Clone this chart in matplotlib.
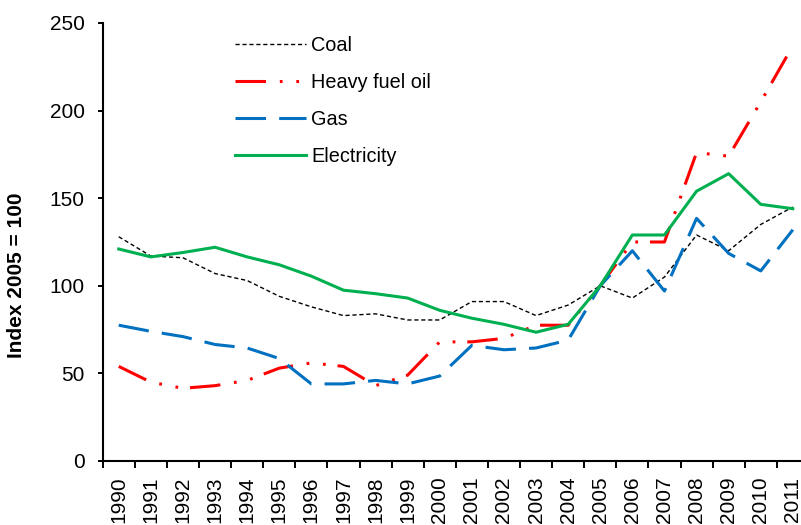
import matplotlib
matplotlib.use("Agg")
import matplotlib.pyplot as plt
import numpy as np

plt.rcParams['font.family'] = ['Liberation Sans', 'DejaVu Sans']

# Данные (индекс 2005 = 100)
years = [str(y) for y in range(1990, 2012)]
coal = [128, 117, 116, 107, 103, 94, 88, 83, 84, 80.5, 80.5,
        91, 91, 83, 89, 100, 93, 105, 129, 120, 135, 145]
heavy_fuel_oil = [54, 45, 41.5, 43, 46, 53, 56, 54, 43, 49, 68,
                  68, 70, 77.5, 77.5, 100, 125, 125, 176, 174, 205, 237]
gas = [77.5, 74, 71, 66.5, 64.5, 58.5, 44, 44, 46, 44, 48.5,
       66, 63.5, 64.5, 69, 100, 120, 97, 138.5, 118.5, 108.5, 132]
electricity = [121, 116.5, 119, 122, 116.5, 112, 105.5, 97.5, 95.5, 93, 86,
               81.5, 78, 73.5, 78, 100, 129, 129, 154, 164, 146.5, 144]

W, H = 801, 525
fig = plt.figure(figsize=(W / 100, H / 100), dpi=100)

# область графика: левая ось x=102.7px, низ y=461, верх y=23, шаг категории 32.1px
left, bottom, top, step = 102.7, 461, 23, 32.1
ax = fig.add_axes([left / W, (H - bottom) / H,
                   step * len(years) / W, (bottom - top) / H])

x = np.arange(len(years))
ax.plot(x, coal, color='black', lw=1.0, dashes=(3, 2), label='Coal')
ax.plot(x, heavy_fuel_oil, color='#FF0000', lw=2.2,
        dashes=(10, 4.5, 0.9, 4.5, 0.9, 3.9), label='Heavy fuel oil')
ax.plot(x, gas, color='#0070C0', lw=2.2, dashes=(10, 4.3), label='Gas')
ax.plot(x, electricity, color='#00B050', lw=2.2, label='Electricity')

ax.set_xlim(-0.5, len(years) - 0.5)
ax.set_ylim(0, 250)
ax.set_yticks([0, 50, 100, 150, 200, 250])

ax.set_xticks(x)
ax.set_xticklabels(years, rotation=90)
ax.set_xticks(np.arange(len(years) + 1) - 0.5, minor=True)
ax.tick_params(axis='x', which='major', length=0, pad=11.3, labelsize=15)
ax.tick_params(axis='x', which='minor', length=5, width=1.4, direction='out')
ax.tick_params(axis='y', length=3.6, width=1.4, pad=9.3, labelsize=15)

for side in ['top', 'right']:
    ax.spines[side].set_visible(False)
for side in ['left', 'bottom']:
    ax.spines[side].set_linewidth(1.5)

fig.text(17 / W, 1 - 275 / H, 'Index 2005 = 100', rotation=90,
         ha='center', va='center', fontsize=15, fontweight='bold')

ax.legend(loc='upper left', bbox_to_anchor=(235 / W, 1 - 36 / H),
          bbox_transform=fig.transFigure, frameon=False, fontsize=14.3,
          handlelength=3.55, handletextpad=0.3, labelspacing=0.91,
          borderpad=0, borderaxespad=0)

fig.savefig('out.png', dpi=100)
